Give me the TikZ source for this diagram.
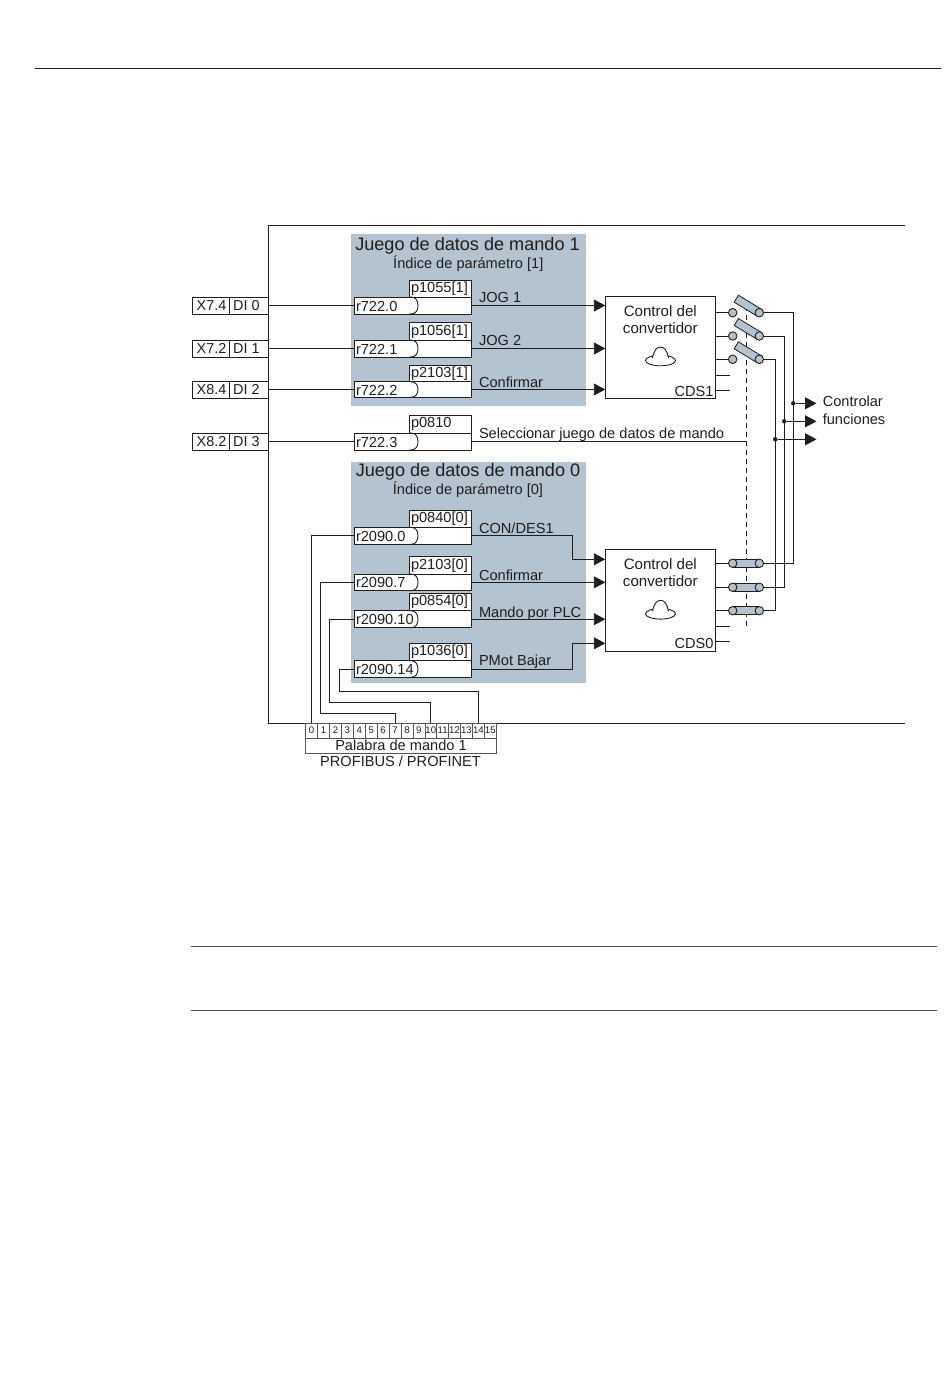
\documentclass[tikz,border=0pt]{standalone}
\usepackage{fontspec}
\setmainfont{Liberation Sans}
\usetikzlibrary{arrows.meta,calc}
\definecolor{panel}{HTML}{B4C3D0}
\definecolor{ink}{HTML}{1E1E1E}
\definecolor{rulegray}{HTML}{555555}
\definecolor{knob}{HTML}{B7C0C6}
\tikzset{
  x=1pt,y=-1pt,
  every node/.append style={outer sep=0pt},
  wire/.style={draw=ink,line width=.9pt},
  arrowwire/.style={wire,-{Triangle[length=11.5pt,width=12pt]}},
  panelbox/.style={fill=panel,draw=none,inner sep=0pt},
  plainbox/.style={draw=ink,line width=.9pt,fill=white,inner sep=0pt,text=ink},
  lbl/.style={inner sep=0pt,text=ink,font=\fontsize{14.6}{15}\selectfont},
  small/.style={inner sep=0pt,text=ink,font=\fontsize{14.6}{15}\selectfont},
  title/.style={inner sep=0pt,text=ink,font=\fontsize{18.1}{20}\selectfont},
  sub/.style={inner sep=0pt,text=ink,font=\fontsize{14.6}{15}\selectfont},
  bit/.style={draw=rulegray,line width=.6pt,inner sep=0pt,text=ink,font=\fontsize{9.6}{10}\selectfont},
  knobc/.style={circle,draw=ink,line width=.9pt,fill=knob,inner sep=0pt,minimum size=8.5pt},
  rod/.style={draw=ink,line width=.8pt,fill=panel},
  junction/.style={circle,fill=ink,inner sep=0pt,minimum size=4.5pt},
}
% name, top, mid, bot, ptext, rtext
\newcommand{\paramrow}[6]{%
  \node[plainbox,anchor=north west,minimum width=62.5pt,minimum height={(#3-#2)*1pt},text width=62.5pt,align=left,font=\fontsize{14.6}{15}\selectfont] (p#1) at (409.2,#2) {\hspace*{1.8pt}\raisebox{-.8pt}{#5}};
  \node[plainbox,anchor=north west,minimum width=117.7pt,minimum height={(#4-#3)*1pt}] (r#1) at (354,#3) {};
  \draw[wire] (409,#3) -- (411,#3) .. controls (416,#3) and (418,{#3+4}) .. (418,{(#3+#4)/2}) .. controls (418,{#4-4}) and (416,#4) .. (411,#4) -- (409,#4);
  \node[lbl,anchor=west] (t#1) at ([xshift=2pt,yshift=-.5pt]r#1.west) {#6};
}
% name, top, text 1, text 2
\newcommand{\diline}[4]{%
  \node[plainbox,anchor=north west,minimum width=37pt,minimum height=17pt,font=\fontsize{14.4}{15}\selectfont] (x#1) at (192.3,#2) {\hspace{1.5pt}#3};
  \node[plainbox,anchor=north west,minimum width=38.7pt,minimum height=17pt,font=\fontsize{14.4}{15}\selectfont] (d#1) at (229.3,#2) {\hspace{-4.5pt}#4};
}
% hat icon, top y
\newcommand{\haticon}[1]{%
  \draw[wire,fill=white] (660.5,{#1+13.5}) ellipse [x radius=15,y radius=5.3];
  \draw[wire,fill=white] (652.5,{#1+11}) .. controls (654,{#1+3}) and (657,{#1}) .. (660.5,{#1}) .. controls (664,{#1}) and (667,{#1+3}) .. (668.5,{#1+11});
}
\begin{document}
\begin{tikzpicture}
\useasboundingbox (0,0) rectangle (950,1397);
\fill[white] (0,0) rectangle (950,1397);
% page rules
\coordinate (hdrL) at (35,68.5); \coordinate (hdrR) at (941,68.5);
\draw[ink,line width=.8pt] (hdrL) -- (hdrR);
\coordinate (n1L) at (191,946); \coordinate (n1R) at (937,946);
\coordinate (n2L) at (191,1010.5); \coordinate (n2R) at (937,1010.5);
\draw[rulegray,line width=.8pt] (n1L) -- (n1R);
\draw[rulegray,line width=.8pt] (n2L) -- (n2R);
% frame
\coordinate (fTR) at (905,225.5); \coordinate (fTL) at (268,225.5);
\coordinate (fBL) at (268,723); \coordinate (fBR) at (905,723);
\draw[wire] (fTR) -- (fTL) -- (fBL) -- (fBR);
% panels
\node[panelbox,anchor=north west,minimum width=235pt,minimum height=172pt] (pan1) at (351,234) {};
\node[panelbox,anchor=north west,minimum width=235pt,minimum height=220.5pt] (pan0) at (351,462.2) {};
\node[title] (ti1) at (467.5,245.5) {Juego de datos de mando 1};
\node[sub] (su1) at (468.3,263.5) {Índice de parámetro [1]};
\node[title] (ti0) at (468,471.5) {Juego de datos de mando 0};
\node[sub] (su0) at (468,490) {Índice de parámetro [0]};
% parameter rows
\paramrow{a}{280}{297}{314}{p1055[1]}{r722.0}
\paramrow{b}{322.7}{340}{357}{p1056[1]}{r722.1}
\paramrow{c}{365}{381.7}{397.3}{p2103[1]}{r722.2}
\paramrow{d}{415.7}{433}{450}{p0810}{r722.3}
\paramrow{e}{510}{527.3}{544.3}{p0840[0]}{r2090.0}
\paramrow{f}{556.7}{574}{590.7}{p2103[0]}{r2090.7}
\paramrow{g}{593.3}{610.7}{627.7}{p0854[0]}{r2090.10}
\paramrow{h}{643.3}{660.7}{677.3}{p1036[0]}{r2090.14}
% inputs
\diline{a}{297}{X7.4}{DI 0}
\diline{b}{340}{X7.2}{DI 1}
\diline{c}{381}{X8.4}{DI 2}
\diline{d}{433}{X8.2}{DI 3}
\foreach \n in {a,b,c,d} \draw[wire] (d\n.east) -- (r\n.west);
% control boxes
\node[plainbox,anchor=north west,minimum width=110.4pt,minimum height=102.3pt] (cb1) at (605.3,296) {};
\node[plainbox,anchor=north west,minimum width=110.4pt,minimum height=101.7pt] (cb0) at (605.3,549.3) {};
\node[small,align=center,font=\fontsize{15.1}{15}\selectfont] (cbt1) at (660.3,320) {Control del\\[2pt]convertidor};
\node[small,align=center,font=\fontsize{15.1}{15}\selectfont] (cbt0) at (660.3,573) {Control del\\[2pt]convertidor};
\node[small,anchor=east] (cds1) at (713.5,391) {CDS1};
\node[small,anchor=east] (cds0) at (713.5,643.5) {CDS0};
\haticon{347}
\haticon{600.3}
% outputs to control box 1
\draw[arrowwire] (ra.east) -- (ra.east -| cb1.west);
\draw[arrowwire] (rb.east) -- (rb.east -| cb1.west);
\draw[arrowwire] (rc.east) -- (rc.east -| cb1.west);
\node[lbl,anchor=base west] (la) at (479,302.5) {JOG 1};
\node[lbl,anchor=base west] (lb) at (479,345.5) {JOG 2};
\node[lbl,anchor=base west] (lc) at (479,387) {Confirmar};
\node[lbl,anchor=base west] (ld) at (479,438) {Seleccionar juego de datos de mando};
\node[lbl,anchor=base west] (le) at (479,533) {CON/DES1};
\node[lbl,anchor=base west] (lf) at (479,580) {Confirmar};
\node[lbl,anchor=base west] (lg) at (479,617) {Mando por PLC};
\node[lbl,anchor=base west] (lh) at (479,665) {PMot Bajar};
% outputs to control box 0
\coordinate (in0a) at (605.3,559.3);
\coordinate (in0d) at (605.3,643.3);
\draw[arrowwire] (re.east) -| (572.3,559.3) -- (in0a);
\draw[arrowwire] (rf.east) -- (rf.east -| cb0.west);
\draw[arrowwire] (rg.east) -- (rg.east -| cb0.west);
\draw[arrowwire] (rh.east) -| (572.3,643.3) -- (in0d);
% data set selection
\coordinate (sel) at (746,441);
\draw[wire] (rd.east) -- (rd.east -| sel);
\coordinate (dashT) at (746,306);
\coordinate (dashB) at (746,626);
\draw[ink,line width=.8pt,dash pattern=on 5pt off 4pt] (dashT) -- (dashB);
% switches CDS1
\foreach \n/\y in {1/312.7,2/336,3/359.3}{
  \node[knobc] (ka\n) at (732.7,\y) {};
  \node[knobc,draw=none,fill=none] (kb\n) at (759.3,\y) {};
  \draw[rod] ($(kb\n)+(-23,-14)+(2.1,-3.5)$) -- ($(kb\n)+(2.1,-3.5)$) -- ($(kb\n)+(-2.1,3.5)$) -- ($(kb\n)+(-23,-14)+(-2.1,3.5)$) -- cycle;
  \draw[wire] (cb1.east |- ka\n) -- (ka\n);
}
% switches CDS0
\foreach \n/\y in {1/563.3,2/587.3,3/610.7}{
  \node[knobc,draw=none,fill=none] (kc\n) at (732.7,\y) {};
  \node[knobc,draw=none,fill=none] (kd\n) at (759.3,\y) {};
  \draw[rod] (732.7,\y-4) -- (759.3,\y-4) -- (759.3,\y+4) -- (732.7,\y+4) -- cycle;
  \node[knobc] at (kc\n) {};
  \draw[wire] (cb0.east |- kc\n) -- (kc\n);
}
% stubs
\coordinate (s1a) at (730,375); \coordinate (s1b) at (730,390);
\coordinate (s0a) at (730,626.3); \coordinate (s0b) at (730,641.3);
\draw[wire] (cb1.east |- s1a) -- (s1a);
\draw[wire] (cb1.east |- s1b) -- (s1b);
\draw[wire] (cb0.east |- s0a) -- (s0a);
\draw[wire] (cb0.east |- s0b) -- (s0b);
% buses
\coordinate (bus1) at (793.3,403.3);
\coordinate (bus2) at (784.3,421.3);
\coordinate (bus3) at (775.3,439.3);
\draw[wire] (kb1) -- (bus1 |- kb1) -- (bus1 |- kd1) -- (kd1);
\draw[wire] (kb2) -- (bus2 |- kb2) -- (bus2 |- kd2) -- (kd2);
\draw[wire] (kb3) -- (bus3 |- kb3) -- (bus3 |- kd3) -- (kd3);
\node[knobc] at (kb1) {}; \node[knobc] at (kb2) {}; \node[knobc] at (kb3) {};
\node[knobc] at (kd1) {}; \node[knobc] at (kd2) {}; \node[knobc] at (kd3) {};
\node[junction] (j1) at (bus1) {};
\node[junction] (j2) at (bus2) {};
\node[junction] (j3) at (bus3) {};
\coordinate (o1) at (816.5,403.3);
\coordinate (o2) at (816.5,421.3);
\coordinate (o3) at (816.5,439.3);
\draw[arrowwire] (j1) -- (o1);
\draw[arrowwire] (j2) -- (o2);
\draw[arrowwire] (j3) -- (o3);
\node[small,anchor=west,align=left] (ctl) at (822.8,410.5) {Controlar\\[3pt]funciones};
% fieldbus table
\foreach \i in {0,...,15}{
  \node[bit,anchor=north west,minimum width=11.91pt,minimum height=15pt] (b\i) at ({305.7+\i*11.91},723) {\i};
}
\node[bit,anchor=north west,minimum width=190.6pt,minimum height=15pt,font=\fontsize{14.6}{15}\selectfont] (word) at (305.7,738) {Palabra de mando 1};
\node[small] (pn) at (400.5,761) {PROFIBUS / PROFINET};
% fieldbus wires
\draw[wire] (re.west) -| (b0.north);
\draw[wire] (rf.west) -| (320.7,713.3) -| (b7.north);
\draw[wire] (rg.west) -| (329.8,702.7) -| (b10.north);
\draw[wire] (rh.west) -| (339.6,691.7) -| (b14.north);
\end{tikzpicture}
\end{document}
